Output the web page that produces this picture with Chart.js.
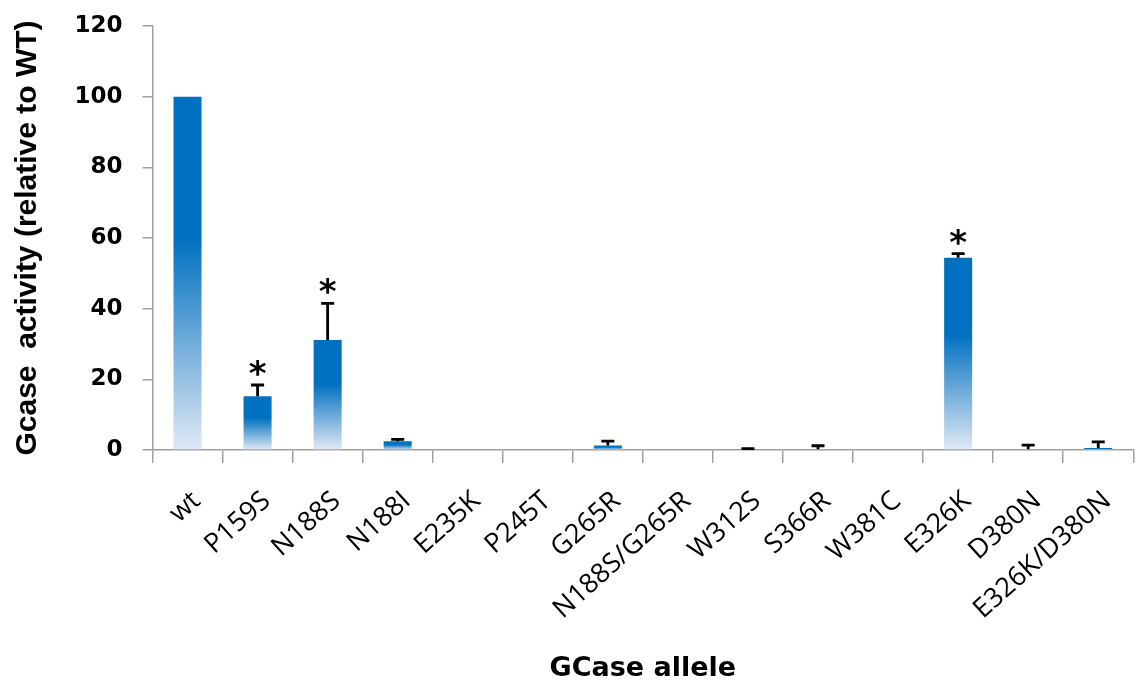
<!DOCTYPE html>
<html>
<head>
<meta charset="utf-8">
<script src="https://cdn.jsdelivr.net/npm/chart.js@4.4.1/dist/chart.umd.min.js"></script>
<style>
  html, body { margin: 0; padding: 0; background: #ffffff; }
  #wrap { width: 1142px; height: 682px; }
</style>
</head>
<body>
<div id="wrap"><canvas id="c" width="1142" height="682"></canvas></div>
<script>
// ---- data ----
const categories = ['wt', 'P159S', 'N188S', 'N188I', 'E235K', 'P245T', 'G265R', 'N188S/G265R',
                    'W312S', 'S366R', 'W381C', 'E326K', 'D380N', 'E326K/D380N'];
const activity   = [100, 15.2, 31.1, 2.5, 0, 0, 1.3, 0, 0.2, 0.2, 0, 54.4, 0.2, 0.6];
const errorUpper = [0, 3.2, 10.4, 0.5, 0, 0, 1.2, 0, 0.2, 1.0, 0, 1.2, 1.2, 1.7];
const significant = [false, true, true, false, false, false, false, false, false, false, false, true, false, false];
const yTicks = [0, 20, 40, 60, 80, 100, 120];

const BLUE = '#0070C0';
const AXIS_GREY = '#A0A0A0';

function barGradient(ctx) {
  const chart = ctx.chart;
  if (ctx.type !== 'data' || !chart.chartArea) return BLUE;
  const y = chart.scales.y;
  const top = y.getPixelForValue(ctx.raw);
  const base = y.getPixelForValue(0);
  if (base - top < 1) return BLUE;
  const g = chart.ctx.createLinearGradient(0, top, 0, base);
  g.addColorStop(0, BLUE);
  g.addColorStop(0.4, BLUE);
  g.addColorStop(1, '#E1E9F5');
  return g;
}

const errorBarPlugin = {
  id: 'errorBars',
  afterDatasetsDraw(chart) {
    const ctx = chart.ctx;
    const meta = chart.getDatasetMeta(0);
    const y = chart.scales.y;
    ctx.save();
    ctx.strokeStyle = '#000000';
    ctx.lineWidth = 2.8;
    meta.data.forEach((bar, i) => {
      const err = errorUpper[i];
      const v = activity[i];
      const x = bar.x;
      const yv = y.getPixelForValue(v);
      const ye = y.getPixelForValue(v + err);
      if (err > 0) {
        ctx.beginPath();
        ctx.moveTo(x, yv);
        ctx.lineTo(x, ye);
        ctx.moveTo(x - 6.5, ye);
        ctx.lineTo(x + 6.5, ye);
        ctx.stroke();
      }
      if (significant[i]) {
        ctx.fillStyle = '#000000';
        ctx.font = 'bold 34px "DejaVu Sans"';
        ctx.textAlign = 'center';
        ctx.textBaseline = 'alphabetic';
        ctx.fillText('*', x, ye);
      }
    });
    ctx.restore();
  }
};

new Chart(document.getElementById('c'), {
  type: 'bar',
  data: {
    labels: categories,
    datasets: [{
      data: activity,
      backgroundColor: barGradient,
      borderWidth: 0,
      barPercentage: 0.4,
      categoryPercentage: 1.0
    }]
  },
  options: {
    responsive: false,
    animation: false,
    devicePixelRatio: 1,
    layout: { padding: { top: 26, right: 2, left: 0, bottom: 0 } },
    plugins: { legend: { display: false }, tooltip: { enabled: false } },
    scales: {
      x: {
        afterFit(scale) { scale.height = 232; scale.paddingTop = 0; scale.paddingBottom = 0; },
        border: { color: AXIS_GREY, width: 1.5 },
        grid: { offset: true, drawOnChartArea: false, color: AXIS_GREY, lineWidth: 1.5, tickLength: 13 },
        ticks: {
          autoSkip: false, minRotation: 42, maxRotation: 42, padding: 22, labelOffset: 9,
          color: '#000000',
          font: { family: '"Open Sans", "Noto Sans", sans-serif', size: 27 }
        },
        title: {
          display: true, text: 'GCase allele', color: '#000000',
          padding: { top: 0, bottom: 0 },
          font: { family: '"DejaVu Sans", sans-serif', size: 27, weight: 'bold', lineHeight: 1.0 }
        }
      },
      y: {
        min: 0, max: 120,
        afterFit(scale) { scale.width = 152.5; scale.paddingTop = 0; scale.paddingBottom = 0; },
        afterBuildTicks(scale) { scale.ticks = yTicks.map(v => ({ value: v })); },
        border: { color: AXIS_GREY, width: 1.5 },
        grid: { drawOnChartArea: false, color: AXIS_GREY, lineWidth: 1.5, tickLength: 10 },
        ticks: {
          padding: 20, color: '#000000',
          font: { family: '"DejaVu Sans", sans-serif', size: 23, weight: 'bold' }
        },
        title: {
          display: true, text: 'Gcase  activity (relative to WT)', color: '#000000',
          padding: { top: 10, bottom: 0 },
          font: { family: '"Liberation Sans", Arial, sans-serif', size: 30, weight: 'bold', lineHeight: 1.2 }
        }
      }
    }
  },
  plugins: [errorBarPlugin]
});
</script>
</body>
</html>
